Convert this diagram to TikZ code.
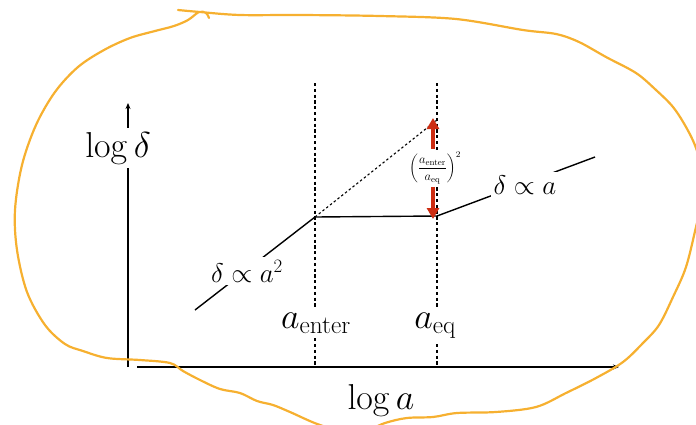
\documentclass[tikz,border=0pt]{standalone}
\usepackage{fix-cm}
\usepackage{amsmath}
\usetikzlibrary{arrows.meta}
\definecolor{loopor}{RGB}{246,176,48}
\definecolor{arrred}{RGB}{205,45,18}
\tikzset{
  axisline/.style={line width=1.3pt,black},
  curveline/.style={line width=1.4pt,black},
  vdash/.style={line width=1.1pt,black,dash pattern=on 3.2pt off 2.6pt},
  ddot/.style={line width=1.1pt,black,dash pattern=on 2.4pt off 2.4pt},
  bigl/.style={fill=white,inner sep=4pt,font=\fontsize{36}{40}\selectfont,anchor=base},
  midl/.style={fill=white,inner sep=4pt,font=\fontsize{36}{40}\selectfont,anchor=base},
  smalll/.style={fill=white,inner sep=3pt,font=\fontsize{27}{30}\selectfont,anchor=base},
  fracl/.style={fill=white,inner sep=1pt,font=\fontsize{12.5}{14}\selectfont},
  redarr/.style={arrred,line width=3.2pt,-{Triangle[length=11pt,width=12pt]}},
}
\begin{document}
\begin{tikzpicture}[x=1pt,y=-1pt]
\useasboundingbox (0,0) rectangle (696,424);
% coordinates
\coordinate (o) at (128,367);
\coordinate (ytop) at (128,103);
\coordinate (xs) at (137,367);
\coordinate (xe) at (619,367);
\coordinate (p0) at (195,310);
\coordinate (p1) at (315,217);
\coordinate (p2) at (437,216);
\coordinate (p3) at (595,157);
\coordinate (dtop) at (437,120);
\coordinate (veT) at (315,83);
\coordinate (veB) at (315,367);
\coordinate (vqT) at (437,83);
\coordinate (vqB) at (437,367);
\coordinate (upS) at (433,149);
\coordinate (upE) at (433,118);
\coordinate (dnS) at (433,187);
\coordinate (dnE) at (433,219);
% axes
\draw[axisline,-{Stealth[length=6pt,width=5pt]}] (o) -- (ytop);
\draw[axisline,-{Stealth[length=6pt,width=5pt]}] (xs) -- (xe);
% dashed verticals
\draw[vdash] (veT) -- (veB);
\draw[vdash] (vqT) -- (vqB);
% dotted diagonal
\draw[ddot] (p1) -- (dtop);
% curve
\draw[curveline] (p0) -- (p1) -- (p2) -- (p3);
% labels
\node[bigl] (ly) at (118,157) {$\log\delta$};
\node[bigl,fill=none] (lx) at (381,409) {$\log a$};
\node[midl] (lae) at (316,328) {$a_{\text{enter}}$};
\node[midl] (laq) at (435,328) {$a_{\text{eq}}$};
\node[smalll] (l2) at (247,282) {$\delta\propto a^2$};
\node[smalll] (l1) at (525,194) {$\delta\propto a$};
\node[fracl] (fr) at (435,168) {$\displaystyle\left(\frac{a_{\text{enter}}}{a_{\text{eq}}}\right)^{2}$};
% red arrows
\draw[redarr] (upS) -- (upE);
\draw[redarr] (dnS) -- (dnE);
% orange loop
\begin{scope}
\clip (0,0) rectangle (696,424);
\draw[loopor,line width=2.2pt,line cap=round,line join=round] plot[smooth,tension=0.55] coordinates {
(178,10) (200,12) (240,15) (300,15) (380,16) (456,19) (523,30) (556,34) (579,42) (606,57) (636,73) (656,90) (673,107) (686,127) (696,148) (703,175) (701,205) (696,227) (686,267) (673,297) (659,325) (643,343) (623,362) (596,378) (566,393) (536,407) (496,412) (457,413) (433,417) (407,418) (385,423) (355,434) (320,425) (290,412) (273,405) (257,401) (240,393) (220,389) (200,380) (183,371) (170,363) (140,360) (107,358) (83,351) (65,344) (45,325) (27,292) (17,250) (15,210) (22,165) (36,125) (55,92) (78,67) (104,50) (130,38) (155,31) (174,26) (188,20) (199,12) (206,13) (209,18)};
\end{scope}
\end{tikzpicture}
\end{document}
